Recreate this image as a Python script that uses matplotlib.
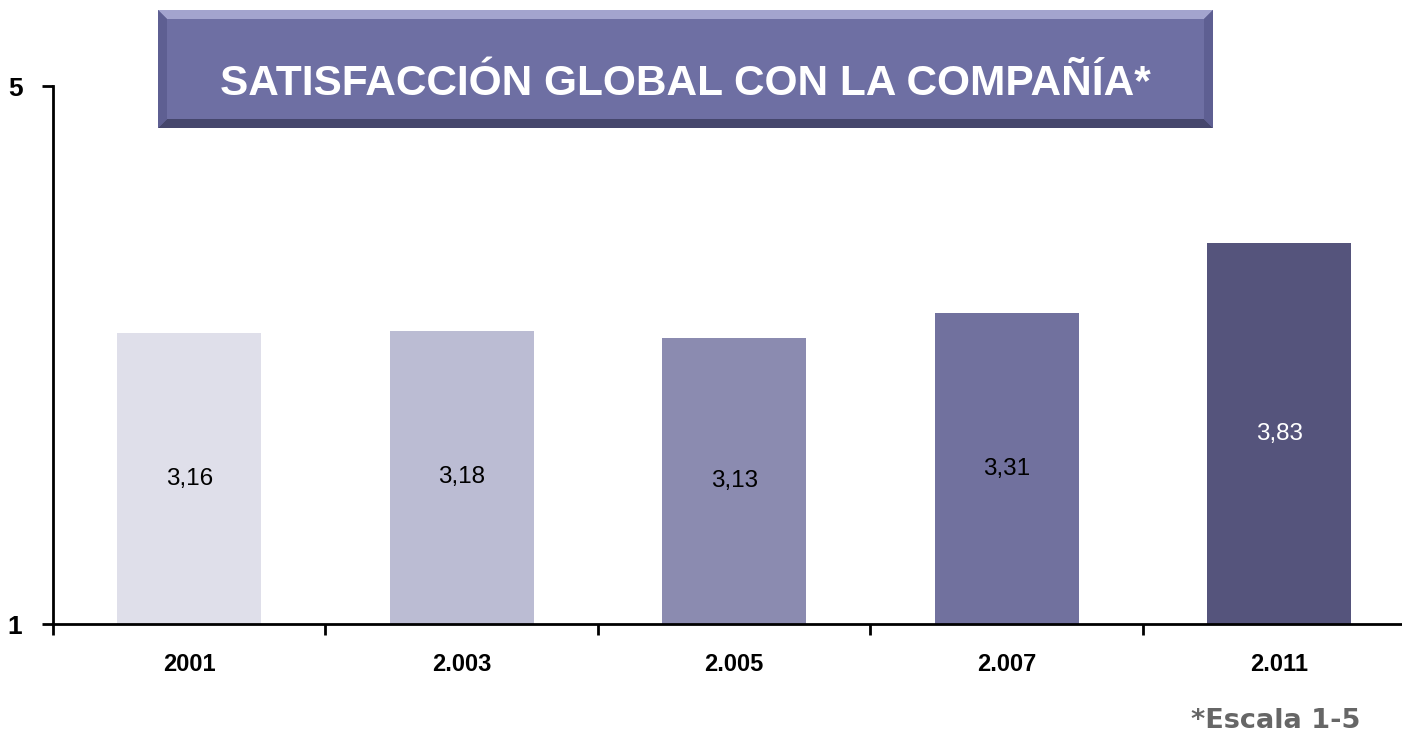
import matplotlib
matplotlib.use("Agg")
import matplotlib.pyplot as plt
from matplotlib.patches import Polygon

categories = ["2001", "2.003", "2.005", "2.007", "2.011"]
values = [3.16, 3.18, 3.13, 3.31, 3.83]
value_labels = ["3,16", "3,18", "3,13", "3,31", "3,83"]
bar_colors = ["#DFDFEA", "#BBBCD3", "#8B8BB0", "#71719E", "#55547C"]
label_colors = ["black", "black", "black", "black", "white"]
title = "SATISFACCIÓN GLOBAL CON LA COMPAÑÍA*"
note = "*Escala 1-5"

W, H = 1402, 735
fig = plt.figure(figsize=(W / 100, H / 100), dpi=100)
fig.patch.set_facecolor("white")

def fx(px):
    return px / W

def fy(py):
    return 1 - py / H

ax_left, ax_right = 53, 53 + 272.5 * 5
ax_top, ax_bot = 86, 624
ax = fig.add_axes([fx(ax_left), fy(ax_bot), (ax_right - ax_left) / W, (ax_bot - ax_top) / H])
ax.set_facecolor("none")

x = list(range(len(categories)))
ax.bar(x, [v - 1 for v in values], bottom=1, width=0.53, color=bar_colors, zorder=2)
for xi, v, lab, c in zip(x, values, value_labels, label_colors):
    ax.text(xi, (1 + v) / 2, lab, ha="center", va="center", fontsize=17.5,
            color=c, family="Liberation Sans", zorder=3)

ax.set_xlim(-0.5, len(categories) - 0.5)
ax.set_ylim(1, 5)
ax.set_yticks([1, 5])
ax.set_yticklabels(["1", "5"], fontsize=19, fontweight="bold", family="Liberation Sans")
ax.set_xticks(x)
ax.set_xticklabels(categories, fontsize=17, fontweight="bold", family="Liberation Sans")
ax.tick_params(axis="x", which="major", length=0, pad=21)
ax.set_xticks([i - 0.5 for i in range(len(categories) + 1)], minor=True)
ax.tick_params(axis="x", which="minor", length=8, width=2, direction="out")
ax.tick_params(axis="y", length=8, width=2, direction="out", pad=14)
for s in ["top", "right"]:
    ax.spines[s].set_visible(False)
for s in ["left", "bottom"]:
    ax.spines[s].set_linewidth(2)

# Title box with bevel
bx0, bx1, by0, by1 = 158, 1213, 10, 128
bev = 9
def poly(pts, color):
    fig.patches.append(Polygon([(fx(a), fy(b)) for a, b in pts], closed=True,
                               transform=fig.transFigure, facecolor=color,
                               edgecolor="none", zorder=1))
poly([(bx0, by0), (bx1, by0), (bx1, by1), (bx0, by1)], "#6E6FA3")
poly([(bx0, by0), (bx1, by0), (bx1 - bev, by0 + bev), (bx0 + bev, by0 + bev)], "#A3A4CE")
poly([(bx0, by1), (bx1, by1), (bx1 - bev, by1 - bev), (bx0 + bev, by1 - bev)], "#45466C")
poly([(bx0, by0), (bx0 + bev, by0 + bev), (bx0 + bev, by1 - bev), (bx0, by1)], "#5E5F92")
poly([(bx1, by0), (bx1 - bev, by0 + bev), (bx1 - bev, by1 - bev), (bx1, by1)], "#5E5F92")
fig.text(fx((bx0 + bx1) / 2), fy(84), title, ha="center", va="center", color="white",
         fontsize=30.5, fontweight="bold", family="Liberation Sans", zorder=3)

fig.text(fx(1360), fy(728), note, ha="right", va="baseline", color="#666666",
         fontsize=19.5, fontweight="bold", family="DejaVu Sans")

fig.savefig("out.png", dpi=100)
